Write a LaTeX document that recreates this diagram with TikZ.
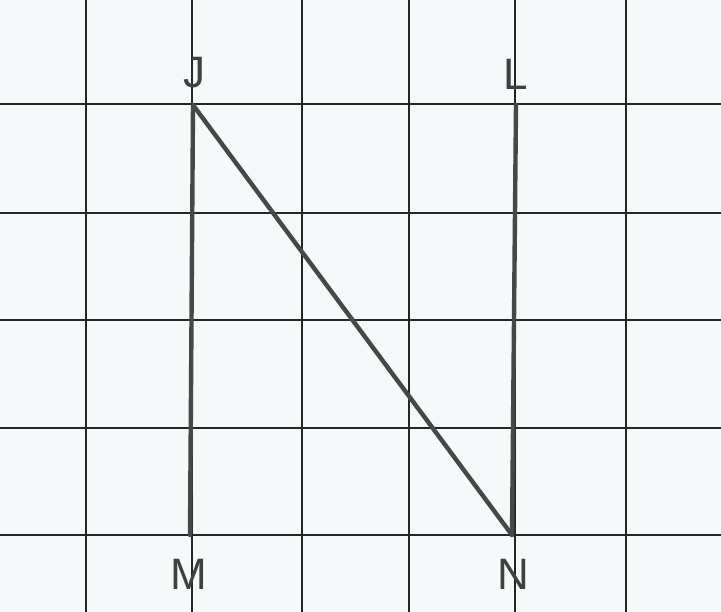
\documentclass[tikz,border=0pt]{standalone}
\usepackage{fontspec}
\setmainfont{Liberation Sans}
\begin{document}
\begin{tikzpicture}[x=1pt,y=-1pt,
  gridline/.style={draw=black!85, line width=1.5pt},
  segline/.style={draw=black!72, line width=4.4pt, line cap=round, line join=round},
  ptlabel/.style={text=black!75, font=\fontsize{44}{46}\selectfont, inner sep=0pt}]
\fill[fill={rgb,255:red,246;green,249;blue,249}] (0,0) rectangle (721,612);
\useasboundingbox (0,0) rectangle (721,612);
% grid
\foreach \x in {86,192,302,409,515,626} \draw[gridline] (\x,0) -- (\x,612);
\foreach \y in {104,213,320,428,535} \draw[gridline] (0,\y) -- (721,\y);
% points
\coordinate (J) at (193,105);
\coordinate (L) at (516,105);
\coordinate (M) at (190,535);
\coordinate (N) at (512,535);
% segments
\draw[segline] (J) -- (M);
\draw[segline] (J) -- (N);
\draw[segline] (L) -- (N);
% labels
\node[ptlabel] (lJ) at (194,73) {J};
\node[ptlabel] (lL) at (516,74) {L};
\node[ptlabel] (lM) at (189,574) {M};
\node[ptlabel] (lN) at (513,574) {N};
\end{tikzpicture}
\end{document}
